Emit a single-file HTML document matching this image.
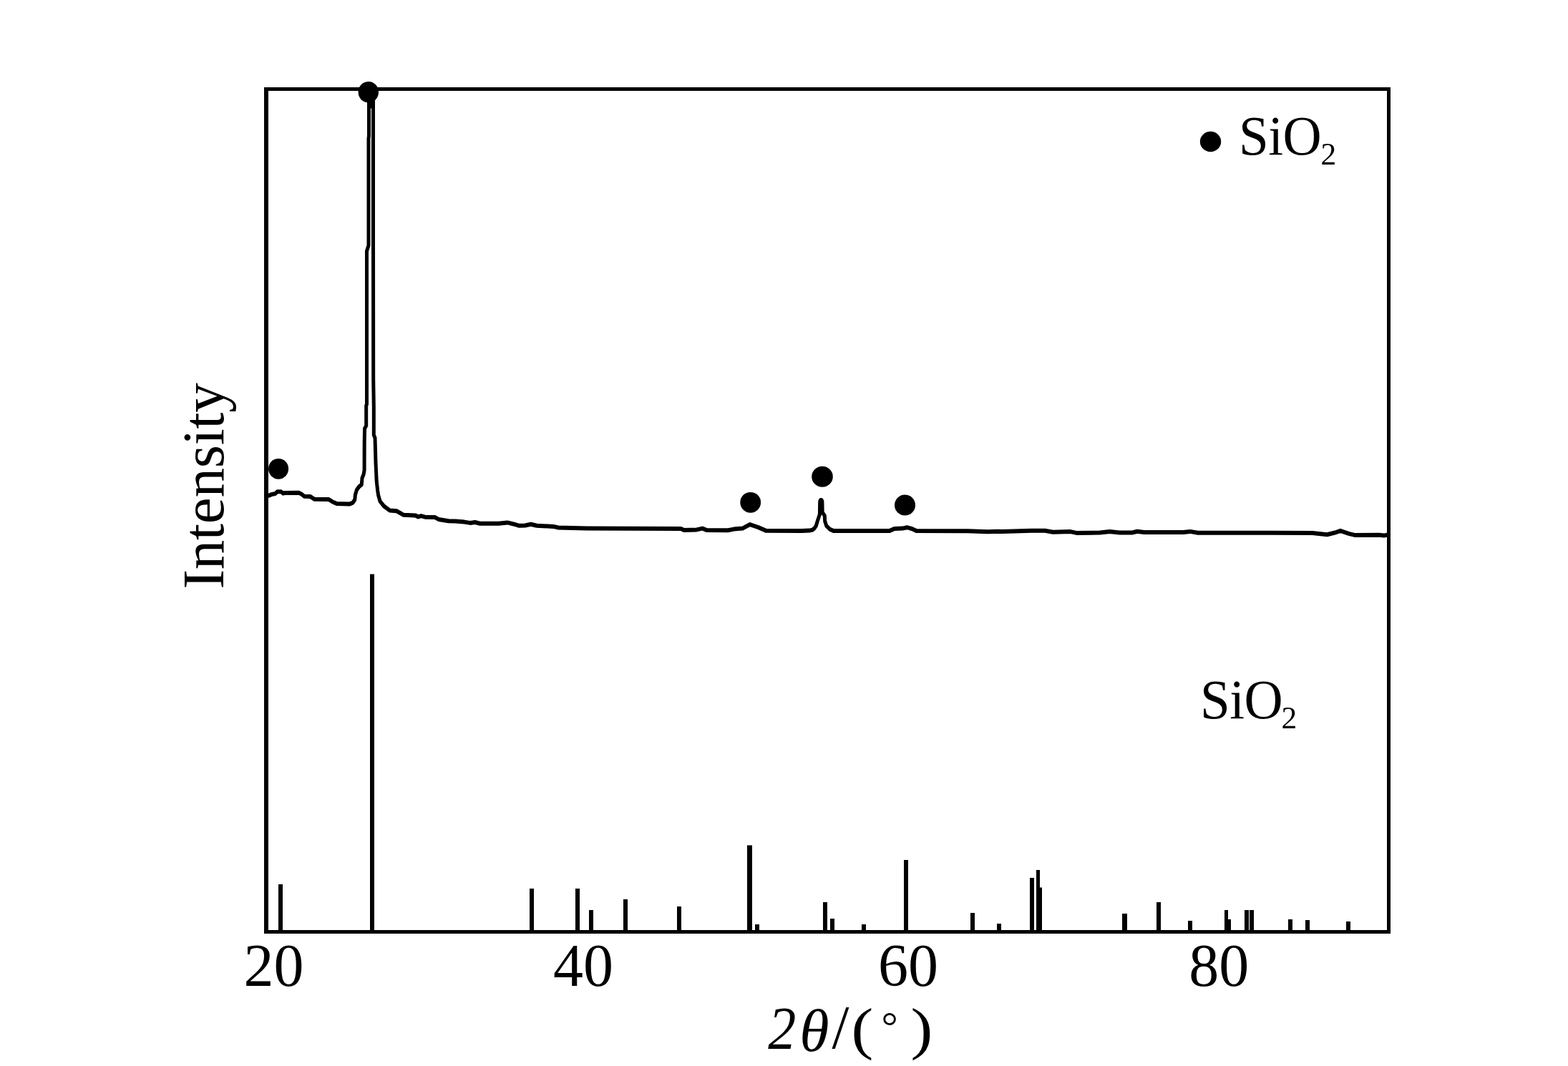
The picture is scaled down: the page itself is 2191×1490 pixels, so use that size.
<!DOCTYPE html>
<html lang="en"><head><meta charset="utf-8"><title>XRD pattern of SiO2</title>
<style>
html,body{margin:0;padding:0;background:#fff;}
body{width:2191px;height:1490px;overflow:hidden;}
svg{display:block;}
text{font-family:"Liberation Serif","DejaVu Serif",serif;fill:#000;}
.it{font-style:italic;}
</style></head><body>
<svg width="2191" height="1490" viewBox="0 0 2191 1490" role="img" aria-label="XRD pattern">
<rect x="0" y="0" width="2191" height="1490" fill="#fff"/>
<g fill="#000">
<rect x="389" y="1236" width="6" height="66"/>
<rect x="517" y="802.5" width="6" height="499.5"/>
<rect x="740" y="1242" width="6" height="60"/>
<rect x="804" y="1242" width="6" height="60"/>
<rect x="823" y="1272" width="6" height="30"/>
<rect x="871" y="1257" width="6" height="45"/>
<rect x="946" y="1267" width="6" height="35"/>
<rect x="1044" y="1181.5" width="7" height="120.5"/>
<rect x="1055" y="1292" width="6" height="10"/>
<rect x="1150" y="1261" width="6" height="41"/>
<rect x="1160" y="1284" width="6" height="18"/>
<rect x="1204" y="1292" width="6" height="10"/>
<rect x="1263" y="1202" width="6" height="100"/>
<rect x="1356" y="1276" width="6" height="26"/>
<rect x="1393" y="1291" width="6" height="11"/>
<rect x="1439" y="1227" width="6" height="75"/>
<rect x="1448" y="1216" width="5" height="86"/>
<rect x="1450" y="1240.5" width="6" height="61.5"/>
<rect x="1568" y="1277" width="7" height="25"/>
<rect x="1616" y="1261" width="6" height="41"/>
<rect x="1660" y="1287" width="6" height="15"/>
<rect x="1711" y="1272" width="5" height="30"/>
<rect x="1713" y="1285" width="7" height="17"/>
<rect x="1739" y="1272" width="6" height="30"/>
<rect x="1746" y="1272" width="6" height="30"/>
<rect x="1800" y="1285" width="6" height="17"/>
<rect x="1824" y="1286" width="6" height="16"/>
<rect x="1881" y="1288" width="6" height="14"/>
</g>
<g transform="scale(1,1.2000)"><polyline fill="none" stroke="#000" stroke-width="5.0" stroke-linejoin="round" stroke-linecap="butt" points="372.0,577.67 376.0,577.17 379.2,575.92 384.6,575.00 387.4,572.75 392.9,572.75 395.6,574.75 398.3,574.08 417.5,574.00 421.5,575.67 425.2,578.08 433.5,578.33 439.6,581.50 459.5,581.75 464.3,584.33 470.4,586.58 488.2,587.17 493.0,585.50 495.8,582.08 496.4,576.33 498.5,570.67 501.9,566.67 505.3,564.33 506.0,556.92 508.1,552.42 509.1,547.83 509.2,514.17 509.6,499.17 511.7,495.83 511.7,472.50 512.5,470.83 512.5,292.50 515.0,285.83 515.0,161.67 515.5,158.33 515.5,125.00 516.6,117.50 520.4,117.50 521.5,125.00 521.5,275.00 521.7,441.67 522.3,473.33 522.3,506.67 524.0,510.00 525.0,539.17 526.2,560.50 527.7,571.67 528.6,576.67 531.0,583.75 536.4,589.50 544.6,594.58 554.2,595.17 563.8,599.75 580.2,600.33 584.4,602.00 588.5,600.92 593.9,602.25 607.6,602.58 613.1,604.92 626.8,606.83 636.4,607.17 648.7,608.00 656.9,609.08 663.8,608.33 670.6,609.83 696.6,609.83 709.0,608.67 718.5,610.58 725.4,612.33 733.6,612.08 741.8,610.58 750.0,612.33 773.3,613.25 780.2,614.58 820.0,615.50 951.5,615.83 955.6,617.42 973.4,617.00 981.6,615.50 987.1,617.42 1017.2,617.75 1025.4,616.33 1037.7,615.50 1048.0,610.92 1059.6,614.33 1070.6,618.17 1120.0,618.33 1131.0,618.00 1135.4,617.17 1138.0,615.42 1140.3,612.50 1142.7,605.83 1145.4,599.08 1145.7,584.17 1146.6,582.50 1148.0,582.50 1148.9,584.17 1149.2,596.67 1152.3,600.83 1152.7,607.17 1154.8,612.50 1159.6,616.50 1164.4,618.25 1243.2,618.25 1250.1,615.75 1261.0,615.50 1267.2,614.33 1274.7,616.00 1280.2,618.25 1352.8,618.58 1380.2,619.42 1393.9,618.92 1400.0,619.25 1441.0,618.17 1460.2,618.17 1471.2,619.83 1495.9,619.25 1504.0,620.75 1536.9,620.42 1550.6,619.25 1564.3,620.42 1582.1,620.42 1589.0,618.92 1598.6,620.08 1653.3,620.08 1662.9,619.08 1673.8,620.67 1833.9,620.75 1854.4,622.67 1865.4,620.42 1872.9,618.17 1884.6,621.58 1892.8,623.25 1927.0,623.08 1933.9,623.83 1940.0,622.67"/></g>
<rect x="513" y="138" width="11" height="13.5" fill="#000"/>
<g fill="#000">
<rect x="369" y="122" width="1574" height="5"/>
<rect x="369" y="1300" width="1574" height="5"/>
<rect x="369" y="122" width="6" height="1183"/>
<rect x="1938" y="122" width="5" height="1183"/>
</g>
<g fill="#000">
<ellipse cx="514.8" cy="128.8" rx="14.2" ry="14.8"/>
<ellipse cx="389.1" cy="655.3" rx="14" ry="14.4"/>
<ellipse cx="1048.7" cy="702.3" rx="14.4" ry="14.4"/>
<ellipse cx="1149" cy="666.2" rx="14.8" ry="14.5"/>
<ellipse cx="1264.5" cy="706" rx="14.5" ry="14.6"/>
<ellipse cx="1691.5" cy="198" rx="14.7" ry="14.2"/>
</g>
<text x="382.6" y="1378.3" font-size="84" text-anchor="middle">20</text>
<text x="815.0" y="1378.3" font-size="84" text-anchor="middle">40</text>
<text x="1268.9" y="1378.3" font-size="84" text-anchor="middle">60</text>
<text x="1703.2" y="1378.3" font-size="84" text-anchor="middle">80</text>
<g font-size="84"><text class="it" transform="translate(1073.2,1465.6) scale(0.93,1)">2</text><text class="it" x="1117.2" y="1469.1">θ</text><text x="1162.6" y="1465.3" font-size="86">/</text><text transform="translate(1189.4,1465.4) scale(1.1,0.965)">(</text><text x="1231.4" y="1454.3" font-size="58">°</text><text transform="translate(1272.6,1465.4) scale(1.1,0.965)">)</text></g>
<text transform="translate(311.6,679.5) rotate(-90)" font-size="83" letter-spacing="-0.25" text-anchor="middle">Intensity</text>
<text transform="translate(1731,215.9) scale(1,1.04)" font-size="75" letter-spacing="-0.5">SiO<tspan x="114.6" y="13.75" font-size="43.5" letter-spacing="0">2</tspan></text>
<text transform="translate(1677,1004.0) scale(1,1.04)" font-size="75" letter-spacing="-0.5">SiO<tspan x="113.6" y="13.75" font-size="43.5" letter-spacing="0">2</tspan></text>
</svg>
</body></html>
